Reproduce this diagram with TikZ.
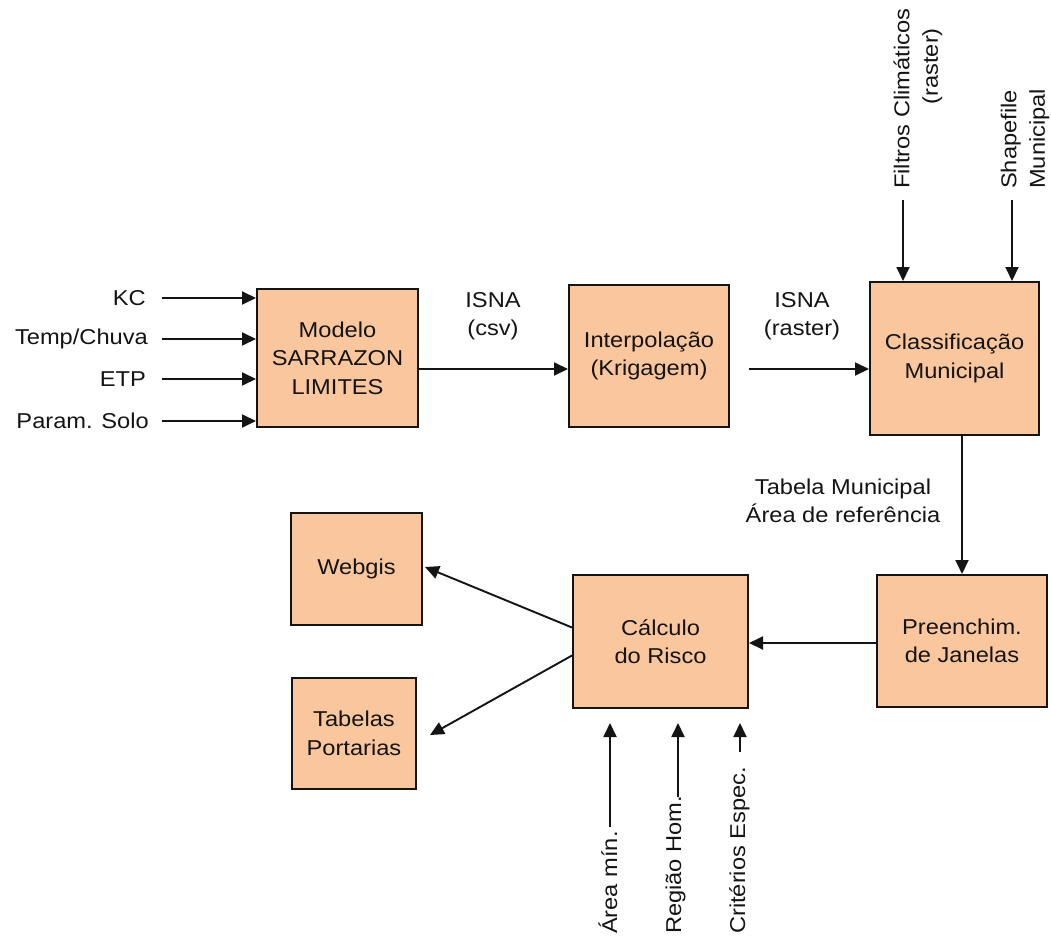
\documentclass[tikz,border=0pt]{standalone}
\usepackage{fontspec}
\setmainfont{Liberation Sans}[FakeStretch=1.1]
\usetikzlibrary{arrows.meta}
\definecolor{boxfill}{RGB}{249,198,157}
\definecolor{ink}{RGB}{20,20,20}
\begin{document}
\begin{tikzpicture}[x=1pt,y=-1pt,
  box/.style={draw=ink, line width=2pt, fill=boxfill, align=center, inner sep=0pt,
    font=\fontsize{21.5}{28.5}\selectfont, text=ink},
  lbl/.style={inner sep=0pt, align=center, font=\fontsize{21.5}{28.5}\selectfont, text=ink},
  arr/.style={draw=ink, line width=1.9pt, -{Triangle[length=14pt,width=13pt]}},
]
\useasboundingbox[fill=white] (0,0) rectangle (1051,942);

% boxes
\node[box, minimum width=161pt, minimum height=138pt] (mod) at (337.5,358) {Modelo\\SARRAZON\\LIMITES};
\node[box, minimum width=160pt, minimum height=142pt] (int) at (649,356) {Interpolação\\(Krigagem)};
\node[box, minimum width=169pt, minimum height=153pt] (cla) at (954.5,358.5) {Classificação\\Municipal};
\node[box, minimum width=170pt, minimum height=132pt] (pre) at (962,641) {Preenchim.\\de Janelas};
\node[box, minimum width=175pt, minimum height=133pt] (cal) at (660.5,641.5) {Cálculo\\do Risco};
\node[box, minimum width=131pt, minimum height=112pt] (web) at (356.5,569) {Webgis};
\node[box, minimum width=124pt, minimum height=111pt] (tab) at (354,733.5) {Tabelas\\Portarias};

% input labels to Modelo
\node[lbl, anchor=east] (kc) at (146,298) {KC};
\node[lbl, anchor=east] (tc) at (148,339) {Temp/Chuva};
\node[lbl, anchor=east] (etp) at (146,379) {ETP};
\node[lbl, anchor=east] (ps) at (149,421) {Param. Solo};
\draw[arr] ([xshift=16pt]kc.east) -- (kc.east -| mod.west);
\draw[arr] ([xshift=14pt]tc.east) -- (tc.east -| mod.west);
\draw[arr] ([xshift=16pt]etp.east) -- (etp.east -| mod.west);
\draw[arr] ([xshift=13pt]ps.east) -- (ps.east -| mod.west);

% main chain
\draw[arr] ([yshift=-11pt]mod.east) -- ([yshift=-11pt]mod.east -| int.west);
\node[lbl] (isna1) at (493,316) {ISNA\\(csv)};
\draw[arr] ([xshift=19pt,yshift=-13pt]int.east) -- ([yshift=-13pt]int.east -| cla.west);
\node[lbl] (isna2) at (802,316) {ISNA\\(raster)};

% top inputs to Classificação
\node[lbl, rotate=90, anchor=west, align=right] (filt) at (918,189) {Filtros Climáticos\\(raster)\hspace*{0.9em}};
\node[lbl, rotate=90, anchor=west, align=left] (shp) at (1025,189) {Shapefile\\Municipal};
\coordinate (fc) at (903,200);
\coordinate (sc) at (1012,200);
\draw[arr] (fc) -- (fc |- cla.north);
\draw[arr] (sc) -- (sc |- cla.north);

% Classificação -> Preenchim.
\draw[arr] (pre.north |- cla.south) -- (pre.north);
\node[lbl] (tabm) at (843,501) {Tabela Municipal\\Área de referência};

% Preenchim. -> Cálculo
\draw[arr] ([yshift=-2pt]pre.west) -- ([yshift=-2pt]pre.west -| cal.east);

% Cálculo -> outputs
\draw[arr] ([yshift=14pt]cal.west) -- ([xshift=2pt,yshift=2pt]web.east);
\draw[arr] ([yshift=-14pt]cal.west) -- ([xshift=13pt,yshift=-1.5pt]tab.east);

% bottom inputs to Cálculo
\node[lbl, rotate=90, anchor=base west] (amin) at (617,934) {Área mín.};
\node[lbl, rotate=90, anchor=base west] (reg) at (681,934) {Região Hom.};
\node[lbl, rotate=90, anchor=base west] (crit) at (745,934) {Critérios Espec.};
\coordinate (a1) at (610,827);
\coordinate (a2) at (678,797);
\coordinate (a3) at (740,752);
\draw[arr, shorten >=14pt] (a1) -- (a1 |- cal.south);
\draw[arr, shorten >=14pt] (a2) -- (a2 |- cal.south);
\draw[arr, shorten >=14pt] (a3) -- (a3 |- cal.south);
\end{tikzpicture}
\end{document}
